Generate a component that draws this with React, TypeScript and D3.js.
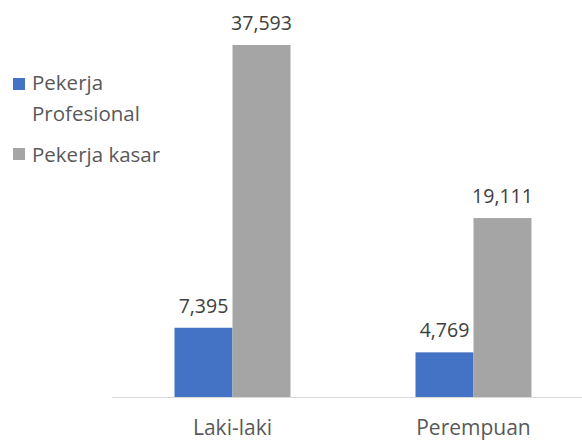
import React from 'react'
import * as d3 from 'd3'

const categories = ['Laki-laki', 'Perempuan']
const seriesNames = ['Pekerja Profesional', 'Pekerja kasar']
const profesional = [7395, 4769]
const kasar = [37593, 19111]
const colors = ['#4472c4', '#a5a5a5']

const W = 582
const H = 443

const App = () => {
    const baseline = 397
    const font = '"Open Sans", sans-serif'
    const textColor = '#595959'

    const x = d3.scaleBand().domain(categories).range([112, 594]).padding(0)
    const inner = d3.scaleBand().domain(seriesNames).range([0, 116]).padding(0)
    const y = d3.scaleLinear().domain([0, 37593]).range([baseline, 45])

    const series = [profesional, kasar]
    const fmt = d3.format(',')

    const bars = categories.map((c, ci) => {
        const gx = x(c) + (x.bandwidth() - 116) / 2
        return (
            <g key={c}>
                {seriesNames.map((s, si) => {
                    const v = series[si][ci]
                    const bx = gx + inner(s)
                    return (
                        <g key={s}>
                            <rect x={bx} y={y(v)} width={inner.bandwidth()} height={baseline - y(v)} fill={colors[si]} />
                            <text x={bx + inner.bandwidth() / 2} y={y(v) - 15} textAnchor="middle" fontSize={19.5} fill="#404040" fontFamily={font}>{fmt(v)}</text>
                        </g>
                    )
                })}
                <text x={x(c) + x.bandwidth() / 2} y={435} textAnchor="middle" fontSize={21} fill={textColor} fontFamily={font}>{c}</text>
            </g>
        )
    })

    return (
        <svg width={W} height={H} style={{ position: 'absolute', left: 0, top: 0 }}>
            <rect width={W} height={H} fill="#fff" />
            <line x1={112} x2={W} y1={baseline + 0.5} y2={baseline + 0.5} stroke="#d9d9d9" strokeWidth={1} />
            {bars}
            <g fontFamily={font} fontSize={20.5} fill={textColor}>
                <rect x={13} y={78} width={12} height={12} fill={colors[0]} />
                <text x={32} y={90}>Pekerja</text>
                <text x={32} y={121}>Profesional</text>
                <rect x={13} y={148} width={12} height={12} fill={colors[1]} />
                <text x={32} y={162}>Pekerja kasar</text>
            </g>
        </svg>
    )
}

export default App
